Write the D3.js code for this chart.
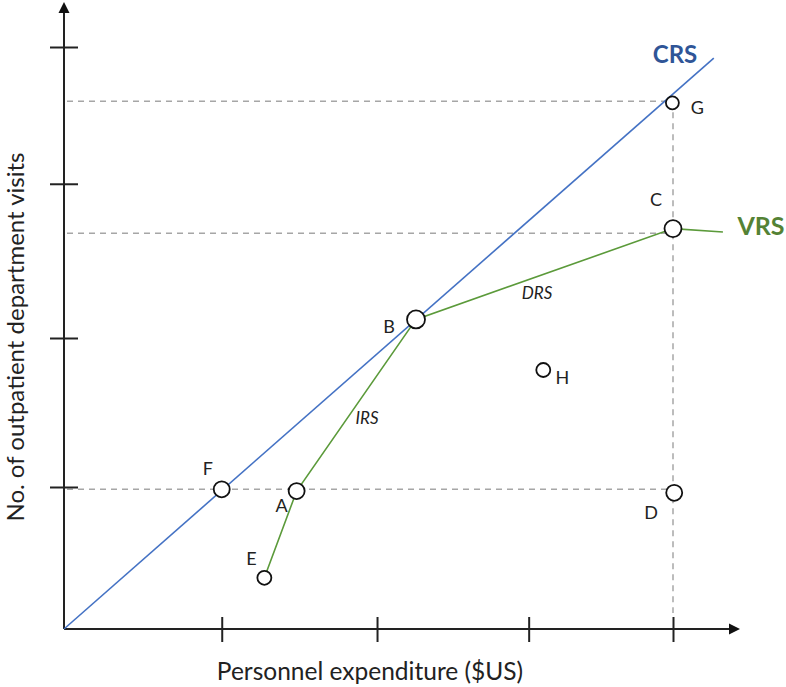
<!DOCTYPE html>
<html>
<head>
<meta charset="utf-8">
<script src="https://cdn.jsdelivr.net/npm/d3@7"></script>
<style>
  html, body { margin: 0; padding: 0; background: #fff; }
  svg { display: block; font-family: Lato, "Open Sans", sans-serif; }
</style>
</head>
<body>
<svg id="chart" width="786" height="687"></svg>
<script>
// points of the frontier diagram (x: expenditure units, y: visits units)
const names = ["A", "B", "C", "D", "E", "F", "G", "H"];
const xVals = [3.82, 5.78, 10.0, 10.02, 3.29, 2.59, 9.99, 7.87];
const yVals = [2.37, 5.32, 6.88, 2.34, 0.88, 2.40, 9.04, 4.45];

// VRS frontier goes E -> A -> B -> C then out flat
const vrsPath = ["E", "A", "B", "C"];
const vrsEnd = [10.82, 6.82];
// CRS ray from origin
const crsEnd = [10.67, 9.81];

// tick positions
const xTicks = [2.59, 5.14, 7.63, 10.0];
const yTicks = [2.44, 5.0, 7.65, 10.0];

// dashed guide lines
const hGuides = [9.07, 6.80, 2.40];
const vGuide = 10.0;

const svg = d3.select("#chart");
const x = d3.scaleLinear().domain([0, 10]).range([64, 673]);
const y = d3.scaleLinear().domain([0, 10]).range([629, 47]);
const pt = {};
names.forEach((n, i) => pt[n] = [xVals[i], yVals[i]]);

// guides
const g = svg.append("g");
g.selectAll(".hg").data(hGuides).enter().append("line")
  .attr("x1", x(0) + 3).attr("x2", x(vGuide))
  .attr("y1", d => y(d)).attr("y2", d => y(d))
  .attr("stroke", "#a6a6a6").attr("stroke-width", 1.5).attr("stroke-dasharray", "6,5");
g.append("line")
  .attr("x1", x(vGuide)).attr("x2", x(vGuide))
  .attr("y1", y(hGuides[0])).attr("y2", y(0) - 16)
  .attr("stroke", "#a6a6a6").attr("stroke-width", 1.5).attr("stroke-dasharray", "6,5");

// x axis
const ax = svg.append("g").attr("transform", `translate(0,${y(0)})`)
  .call(d3.axisBottom(x).tickValues(xTicks).tickSize(13).tickFormat("").tickSizeOuter(0));
ax.select(".domain").remove();
ax.selectAll(".tick line").attr("y1", -12).attr("stroke", "#222").attr("stroke-width", 2);
svg.append("line").attr("x1", x(0)).attr("x2", 732).attr("y1", y(0)).attr("y2", y(0))
  .attr("stroke", "#222").attr("stroke-width", 2);
svg.append("path").attr("d", `M740,${y(0)} L729,${y(0) - 5.5} L729,${y(0) + 5.5} Z`).attr("fill", "#111");

// y axis
const ay = svg.append("g").attr("transform", `translate(${x(0)},0)`)
  .call(d3.axisLeft(y).tickValues(yTicks).tickSize(14).tickFormat("").tickSizeOuter(0));
ay.select(".domain").remove();
ay.selectAll(".tick line").attr("x2", 14).attr("x1", -14).attr("stroke", "#222").attr("stroke-width", 2);
svg.append("line").attr("x1", x(0)).attr("x2", x(0)).attr("y1", y(0)).attr("y2", 10)
  .attr("stroke", "#222").attr("stroke-width", 2);
svg.append("path").attr("d", `M${x(0)},2 L${x(0) - 5.5},13 L${x(0) + 5.5},13 Z`).attr("fill", "#111");

// CRS line
const line = d3.line().x(d => x(d[0])).y(d => y(d[1]));
svg.append("path").attr("d", line([[0, 0], crsEnd]))
  .attr("fill", "none").attr("stroke", "#4472c4").attr("stroke-width", 1.6);

// VRS line
svg.append("path").attr("d", line(vrsPath.map(n => pt[n]).concat([vrsEnd])))
  .attr("fill", "none").attr("stroke", "#5b9a3a").attr("stroke-width", 1.6);

// points
const radius = { B: 9, C: 8.5, G: 6.5, E: 7, H: 7 };
svg.selectAll(".pt").data(names).enter().append("circle")
  .attr("cx", n => x(pt[n][0])).attr("cy", n => y(pt[n][1]))
  .attr("r", n => radius[n] || 8)
  .attr("fill", "#fff").attr("stroke", "#111").attr("stroke-width", 1.8);

// point labels
const off = { A: [-15, 21], B: [-27, 14], C: [-17, -23], D: [-23, 26], E: [-13, -13],
              F: [-14, -14], G: [25, 11], H: [19, 14] };
svg.selectAll(".lbl").data(names).enter().append("text")
  .attr("x", n => x(pt[n][0]) + off[n][0]).attr("y", n => y(pt[n][1]) + off[n][1])
  .attr("text-anchor", "middle").attr("font-size", 18).attr("fill", "#222")
  .text(n => n);

// series labels
svg.append("text").attr("x", 675).attr("y", 63).attr("text-anchor", "middle")
  .attr("font-size", 24).attr("font-weight", "bold").attr("fill", "#2f5597").text("CRS");
svg.append("text").attr("x", 761).attr("y", 235).attr("text-anchor", "middle")
  .attr("font-size", 25).attr("font-weight", "bold").attr("fill", "#548235").text("VRS");
svg.append("text").attr("x", 537).attr("y", 299).attr("text-anchor", "middle")
  .attr("font-size", 17).attr("font-style", "italic").attr("fill", "#222").text("DRS");
svg.append("text").attr("x", 367).attr("y", 424).attr("text-anchor", "middle")
  .attr("font-size", 17).attr("font-style", "italic").attr("fill", "#222").text("IRS");

// axis titles
svg.append("text").attr("x", 370).attr("y", 680).attr("text-anchor", "middle")
  .attr("font-size", 24.5).attr("fill", "#222").text("Personnel expenditure ($US)");
svg.append("text").attr("transform", "translate(24,337) rotate(-90)").attr("text-anchor", "middle")
  .attr("font-size", 24).attr("fill", "#222").text("No. of outpatient department visits");
</script>
</body>
</html>
